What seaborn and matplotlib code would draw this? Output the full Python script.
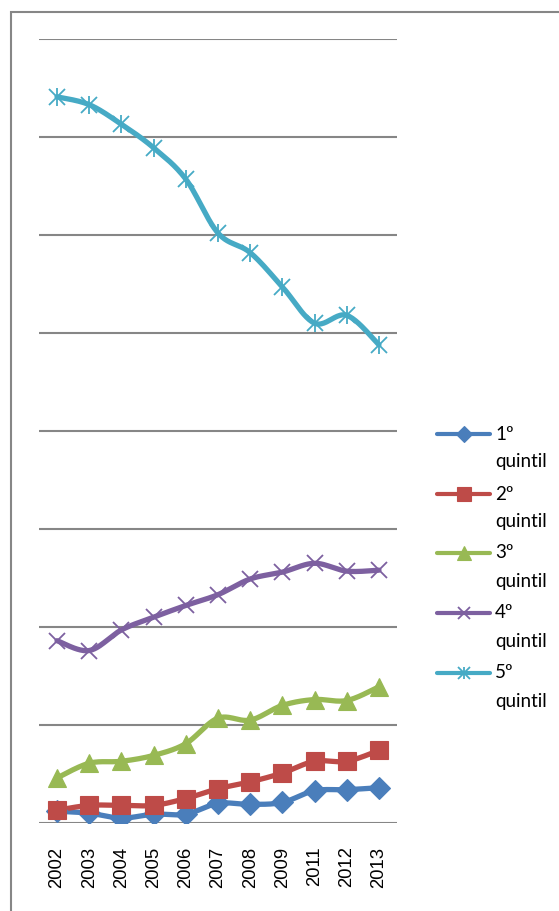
import numpy as np
import pandas as pd
import matplotlib
matplotlib.use("Agg")
import matplotlib.pyplot as plt
from matplotlib.lines import Line2D
from matplotlib.patches import Rectangle
import seaborn as sns

# ---- data -------------------------------------------------------------
years = ["2002", "2003", "2004", "2005", "2006", "2007", "2008", "2009", "2011", "2012", "2013"]
series_names = ["1º quintil", "2º quintil", "3º quintil", "4º quintil", "5º quintil"]
q1 = [0.12, 0.10, 0.05, 0.09, 0.09, 0.20, 0.19, 0.21, 0.33, 0.34, 0.36]
q2 = [0.13, 0.18, 0.18, 0.18, 0.25, 0.35, 0.42, 0.51, 0.63, 0.63, 0.74]
q3 = [0.46, 0.61, 0.63, 0.69, 0.81, 1.07, 1.05, 1.20, 1.26, 1.25, 1.39]
q4 = [1.86, 1.76, 1.97, 2.10, 2.22, 2.33, 2.49, 2.56, 2.65, 2.57, 2.58]
q5 = [7.41, 7.33, 7.13, 6.89, 6.57, 6.02, 5.82, 5.47, 5.10, 5.18, 4.88]
values = [q1, q2, q3, q4, q5]

colors = ["#4A7EBB", "#BE4B48", "#98B954", "#7D60A0", "#46AAC5"]
markers = ["D", "s", "^", "x", "x"]
msizes = [11, 12.5, 13, 11, 11]

W, H = 559, 911


def smooth(xs, ys, n=24):
    """Catmull-Rom curve through the points (similar to a spreadsheet 'smoothed line')."""
    p = np.column_stack([xs, ys]).astype(float)
    p = np.vstack([p[0], p, p[-1]])
    out = []
    for i in range(1, len(p) - 2):
        p0, p1, p2, p3 = p[i - 1], p[i], p[i + 1], p[i + 2]
        t = np.linspace(0, 1, n, endpoint=False)[:, None]
        seg = 0.5 * ((2 * p1) + (-p0 + p2) * t + (2 * p0 - 5 * p1 + 4 * p2 - p3) * t ** 2
                     + (-p0 + 3 * p1 - 3 * p2 + p3) * t ** 3)
        out.append(seg)
    out.append(p[-2][None, :])
    c = np.vstack(out)
    return c[:, 0], c[:, 1]


sns.set_theme(style="white")
plt.rcParams["font.family"] = ["Liberation Sans", "DejaVu Sans"]

fig = plt.figure(figsize=(W / 100, H / 100), dpi=100)

# outer chart frame
fig.add_artist(Rectangle((11 / W, -0.05), 1.2, (H - 12) / H + 0.05, transform=fig.transFigure,
                         fill=False, edgecolor="#868686", linewidth=1.5))

ax = fig.add_axes([39 / W, (H - 823) / H, (397 - 39) / W, (823 - 39) / H])
x = np.arange(len(years))

for name, vals, col, mk, ms in zip(series_names, values, colors, markers, msizes):
    sx, sy = smooth(x, vals)
    sns.lineplot(x=sx, y=sy, sort=False, estimator=None, color=col, linewidth=3.8, ax=ax)
    ax.plot(x, vals, linestyle="none", marker=mk, markersize=ms, color=col,
            markeredgecolor=col, markeredgewidth=1.3 if mk == "x" else 0.8, zorder=5)
    if name.startswith("5"):
        ax.plot(x, vals, linestyle="none", marker="|", markersize=ms * 1.15, color=col,
                markeredgewidth=1.3, zorder=5)

ax.set_xlim(-0.56, 10.56)
ax.set_ylim(0, 8)
ax.set_yticks(range(0, 9))
ax.set_yticklabels([])
ax.set_xticks(x)
ax.set_xticklabels(years, rotation=90, fontsize=13.3, color="black")
ax.tick_params(axis="x", length=0, pad=17)
ax.tick_params(axis="y", length=0)
ax.grid(axis="y", color="#868686", linewidth=1.5)
ax.set_axisbelow(True)
for s in ax.spines.values():
    s.set_visible(False)

# legend drawn beside the plot
leg_y = [434, 494, 553, 613, 673]
for name, col, mk, ms, yy in zip(series_names, colors, markers, msizes, leg_y):
    fy = (H - yy) / H
    fig.add_artist(Line2D([437 / W, 490 / W], [fy, fy], transform=fig.transFigure,
                          color=col, linewidth=3))
    fig.add_artist(Line2D([463.5 / W], [fy], transform=fig.transFigure, color=col,
                          marker=mk, markersize=ms * 0.75, markeredgecolor=col,
                          markeredgewidth=1.3 if mk == "x" else 0.8))
    if name.startswith("5"):
        fig.add_artist(Line2D([463.5 / W], [fy], transform=fig.transFigure, color=col,
                              marker="|", markersize=ms * 0.85, markeredgewidth=1.3))
    num, word = name.split(" ")
    fig.text(495 / W, fy, num, fontsize=13.5, family=["Lato", "DejaVu Sans"],
             va="center", ha="left", color="black")
    fig.text(495 / W, (H - yy - 28) / H, word, fontsize=13.5, family=["Lato", "DejaVu Sans"],
             va="center", ha="left", color="black")

fig.savefig("out.png", dpi=100)
